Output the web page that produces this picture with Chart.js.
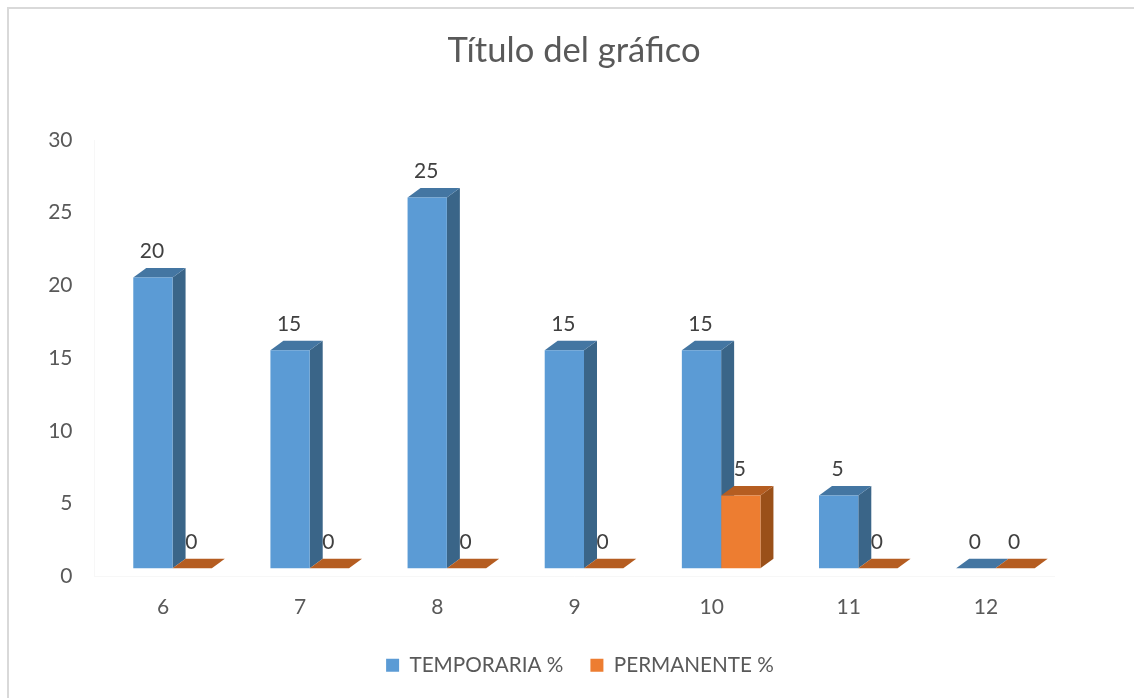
<!DOCTYPE html>
<html>
<head>
<meta charset="utf-8">
<script src="https://cdn.jsdelivr.net/npm/chart.js@4"></script>
<style>
  html, body { margin: 0; padding: 0; background: #fff; overflow: hidden; }
  #frame { position: absolute; left: 7px; top: 7px; width: 1200px; height: 800px;
           border-left: 2px solid #D9D9D9; border-top: 2px solid #D9D9D9; }
  canvas { position: absolute; left: 0; top: 0; }
</style>
</head>
<body>
<div id="frame"></div>
<canvas id="chart" width="1134" height="698"></canvas>
<script>
const categories = ["6", "7", "8", "9", "10", "11", "12"];
const temporaria = [20, 15, 25.5, 15, 15, 5, 0];
const permanente = [0, 0, 0, 0, 5, 0, 0];

const FONT = "Lato, 'Open Sans', sans-serif";

// faces of the fake 3d box, per dataset
const faces = [
  { top: "#4476A2", side: "#3A6588" },
  { top: "#B55D21", side: "#9A5019" },
];
const shiftX = 9.5, shiftY = -8, depthX = 13, depthY = 9.5;

const box3d = {
  id: "box3d",
  // legend sits a little right of the title in the original
  afterLayout(chart) {
    chart.legend.left += 6;
    chart.legend.right += 6;
  },
  beforeDatasetsDraw(chart) {
    const ctx = chart.ctx;
    ctx.save();
    ctx.translate(shiftX, shiftY);
    chart.data.datasets.forEach((ds, i) => {
      chart.getDatasetMeta(i).data.forEach((bar) => {
        const p = bar.getProps(["x", "y", "base", "width"], true);
        const l = p.x - p.width / 2, r = p.x + p.width / 2;
        if (p.base - p.y > 0.5) {
          ctx.fillStyle = faces[i].side;
          ctx.beginPath();
          ctx.moveTo(r, p.y);
          ctx.lineTo(r + depthX, p.y - depthY);
          ctx.lineTo(r + depthX, p.base - depthY);
          ctx.lineTo(r, p.base);
          ctx.closePath();
          ctx.fill();
        }
        ctx.fillStyle = faces[i].top;
        ctx.beginPath();
        ctx.moveTo(l, p.y);
        ctx.lineTo(l + depthX, p.y - depthY);
        ctx.lineTo(r + depthX, p.y - depthY);
        ctx.lineTo(r, p.y);
        ctx.closePath();
        ctx.fill();
      });
    });
  },
  afterDatasetsDraw(chart) {
    const ctx = chart.ctx;
    ctx.fillStyle = "#404040";
    ctx.font = "21px " + FONT;
    ctx.textAlign = "center";
    ctx.textBaseline = "middle";
    chart.data.datasets.forEach((ds, i) => {
      chart.getDatasetMeta(i).data.forEach((bar, j) => {
        const p = bar.getProps(["x", "y"], true);
        ctx.fillText(Math.floor(ds.data[j]), p.x - 1, p.y - depthY - 16.5);
      });
    });
    ctx.restore();
  },
};

new Chart(document.getElementById("chart"), {
  type: "bar",
  data: {
    labels: categories,
    datasets: [
      { label: "TEMPORARIA %", data: temporaria, backgroundColor: "#5B9BD5" },
      { label: "PERMANENTE %", data: permanente, backgroundColor: "#ED7D31" },
    ],
  },
  plugins: [box3d],
  options: {
    responsive: false,
    animation: false,
    clip: false,
    categoryPercentage: 0.573,
    barPercentage: 1,
    layout: { padding: { left: 14, right: 0, top: 0, bottom: 12.5 } },
    plugins: {
      title: {
        display: true,
        text: "Título del gráfico",
        color: "#595959",
        font: { family: FONT, size: 34.6, weight: "normal", lineHeight: 1.2 },
        padding: { top: 30.2, bottom: 68.3 },
      },
      legend: {
        position: "bottom",
        labels: {
          color: "#595959",
          font: { family: FONT, size: 20.7 },
          boxWidth: 13,
          boxHeight: 13,
          padding: 27,
        },
      },
      tooltip: { enabled: false },
    },
    scales: {
      x: {
        grid: { display: false, drawTicks: false },
        border: { color: "#F7F7F7" },
        ticks: { color: "#595959", font: { family: FONT, size: 21 }, padding: 18 },
        afterFit(scale) { scale.height = 51.5; },
      },
      y: {
        min: 0,
        max: 30,
        grid: { display: false, drawTicks: false },
        border: { color: "#F7F7F7" },
        ticks: { stepSize: 5, color: "#595959", font: { family: FONT, size: 21 }, padding: 22 },
        afterFit(scale) { scale.width = 80.5; },
      },
      // empty axis, only keeps the plot off the right edge
      spacer: {
        type: "linear",
        position: "right",
        grid: { display: false },
        border: { display: false },
        ticks: { display: false },
        afterFit(scale) { scale.width = 79.5; },
      },
    },
  },
});
</script>
</body>
</html>
